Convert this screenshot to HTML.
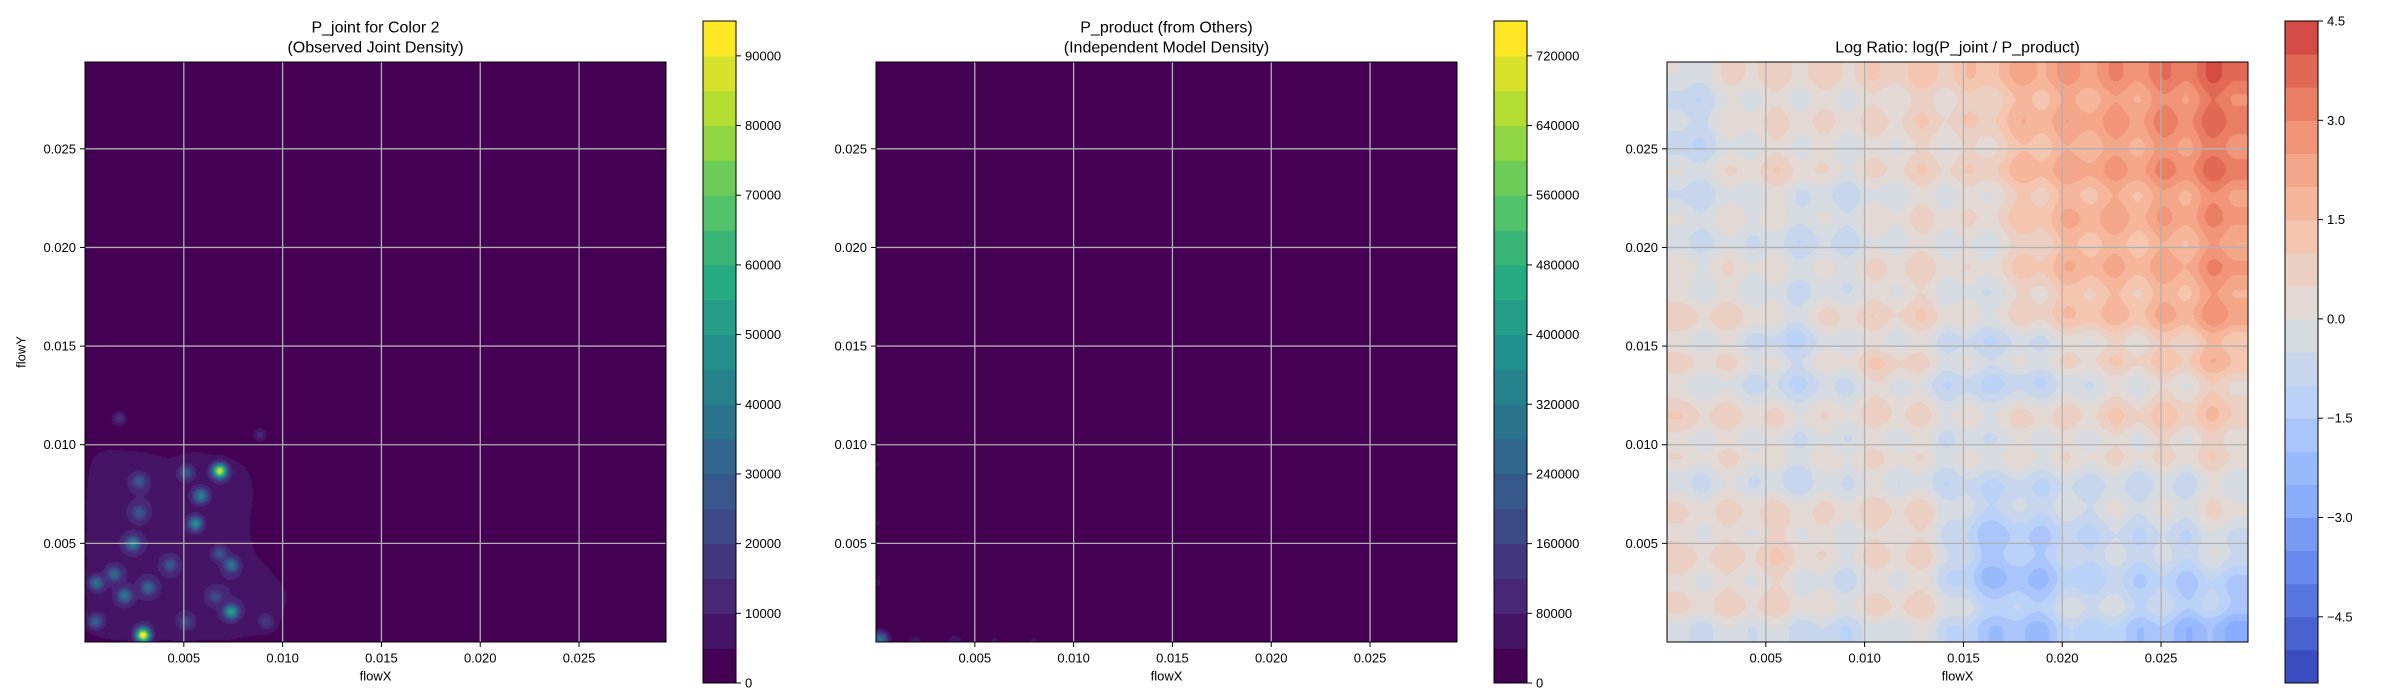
<!DOCTYPE html>
<html><head><meta charset="utf-8"><style>
body{margin:0;background:#fff;}
#root{position:relative;width:2400px;height:700px;overflow:hidden;font-family:"Liberation Sans",sans-serif;}
canvas{position:absolute;}
svg{position:absolute;left:0;top:0;}
</style></head><body>
<div id="root">
<canvas id="c1" width="581" height="580" style="left:85px;top:62px"></canvas>
<canvas id="c2" width="581" height="580" style="left:876px;top:62px"></canvas>
<canvas id="c3" width="581" height="580" style="left:1667px;top:62px"></canvas>
<svg id="ov" width="2400" height="700"></svg>
</div>
<script>
// ---- data ----
const axisMax = 0.0294;
const xTicks = [0.005, 0.010, 0.015, 0.020, 0.025];
const yTicks = [0.005, 0.010, 0.015, 0.020, 0.025];
const tickLabels = ["0.005", "0.010", "0.015", "0.020", "0.025"];
// panel 1 peaks
const p1X = [0.00294,0.00682,0.0074,0.00242,0.0056,0.00586,0.0074,0.0020,0.00057,0.00052,0.0032,0.00148,0.00273,0.00273,0.0051,0.0043,0.0068,0.00174,0.00885,0.0051,0.0066,0.0092];
const p1Y = [0.00034,0.00867,0.00153,0.0050,0.0060,0.0074,0.0039,0.00234,0.00298,0.00103,0.00275,0.00344,0.00654,0.00814,0.0086,0.0039,0.0045,0.01133,0.0105,0.0010,0.0023,0.0010];
const p1V = [90000,80000,45000,35000,40000,35000,30000,30000,30000,25000,25000,25000,20000,20000,20000,20000,20000,15000,12000,15000,15000,12000];
// panel 1 diffuse background blobs
const b1X = [0.001,0.003,0.005,0.007,0.009,0.001,0.003,0.005,0.007,0.0088,0.001,0.003,0.005,0.0075,0.001,0.003,0.005,0.0075,0.001,0.003,0.0055,0.0075,0.0012,0.0115];
const b1Y = [0.001,0.001,0.001,0.001,0.0012,0.003,0.003,0.003,0.003,0.003,0.005,0.005,0.005,0.005,0.007,0.007,0.0072,0.007,0.009,0.0088,0.009,0.0085,0.0142,0.0025];
const b1V = [6000,6000,6000,6000,5500,6000,6000,6000,6000,5500,6000,6000,6000,5500,6000,6000,6000,5500,5500,5500,5000,5000,4500,4500];
// panel 2 blobs
const p2X = [0.0002,0.002,0.004,0.006,0.008,0.011,0,0,0];
const p2Y = [0.0001,0,0,0,0,0,0.003,0.006,0.009];
const p2V = [300000,60000,70000,50000,50000,40000,50000,45000,45000];
// panel 3 coarse log-ratio grid (rows top->bottom, cols left->right)
const ratioGrid = [
[-0.5,0.3,0.3,0.5,0.5,0.8,1.0,2.0,2.2,2.5,3,3.5],
[-0.8,0,0.3,0.3,0.3,0.5,0.5,1.8,2,2.3,2.8,3.2],
[-0.5,0,0.3,-0.3,0,0.3,0.3,1.5,1.8,2,2.5,3],
[-0.3,0,-0.5,-0.3,0,0.3,0,1.2,1.8,1.8,2,2.5],
[0,0,-0.3,-0.2,0.3,0.3,-0.3,1,1.5,1.5,1.8,2.5],
[0.5,0.3,-0.8,0.5,0.3,0.3,-0.5,0.3,0.8,1,1.5,2],
[0,-0.3,-1,-0.3,0.5,-0.5,-1,-0.8,-0.3,0,0.3,0.8],
[0.8,0.5,0.3,0.3,0.5,0.3,0,0.8,0.5,0.8,1,1],
[-0.3,0,-0.8,0,0,-0.5,-0.5,-0.3,-0.3,-0.3,-0.3,0],
[0.3,0.3,0.5,0.3,0.5,0.3,-1.5,-1,-0.8,-0.5,-0.5,0],
[0.5,0.3,0.5,-0.3,0.3,0,-2,-1.8,-1.2,-1,-1.2,-1],
[0.3,0.5,0.3,0,0.5,0.5,-1,-1.3,-0.3,-0.8,-1.3,-1.8]];
// panel 3 stripe offsets (columns left->right, rows top->bottom)
const colStripes = [0.2,-0.3,0.3,-0.2,0.4,-0.3,0.2,-0.4,0.3,-0.2,0.4,-0.3,0.3,-0.2,0.2,-0.4,0.3,-0.2,0.4,-0.3,0.4,-0.3,0.5,-0.2];
const rowStripes = [0.3,-0.3,0.2,-0.2,0.4,-0.3,0.2,-0.3,0.3,-0.2,0.4,-0.4,0.5,-0.3,0.2,-0.4,0.3,-0.3,0.3,-0.2,0.3,-0.3,0.2,-0.8];
const cb1Ticks = [0,10000,20000,30000,40000,50000,60000,70000,80000,90000];
const cb2Ticks = [0,80000,160000,240000,320000,400000,480000,560000,640000,720000];
const cb3Ticks = [-4.5,-3.0,-1.5,0.0,1.5,3.0,4.5];
const cb3Labels = ["−4.5","−3.0","−1.5","0.0","1.5","3.0","4.5"];

// ---- helpers ----
const viridis=[[68,1,84],[71,44,122],[59,81,139],[44,113,142],[33,144,141],[39,173,129],[92,200,99],[170,220,50],[253,231,37]];
const coolwarm=[[59,76,192],[98,130,234],[141,176,254],[184,208,249],[221,221,221],[245,196,173],[244,154,123],[222,96,77],[180,4,38]];
function cmap(tab,t){t=Math.max(0,Math.min(1,t));const f=t*(tab.length-1);const i=Math.min(tab.length-2,Math.floor(f));const r=f-i;return tab[i].map((v,k)=>Math.round(v+(tab[i+1][k]-v)*r));}
const W=581,H=580;
function sx(v){return v/axisMax*W;}
function sy(v){return H-v/axisMax*H;}
// band color: normalized band center over [nlo,nhi]
function bandColor(p,i){const step=(p.hi-p.lo)/p.n;const c=p.lo+(i+0.5)*step;return cmap(p.tab,(c-p.nlo)/(p.nhi-p.nlo));}
function fill(id,fn,p){
 const cv=document.getElementById(id),ctx=cv.getContext('2d');const img=ctx.createImageData(W,H);
 for(let py=0;py<H;py++)for(let px=0;px<W;px++){
  const x=(px+0.5)/W*axisMax,y=(H-py-0.5)/H*axisMax;
  let b=Math.floor((fn(x,y)-p.lo)/(p.hi-p.lo)*p.n);b=Math.max(0,Math.min(p.n-1,b));
  const c=bandColor(p,b);const o=(py*W+px)*4;img.data[o]=c[0];img.data[o+1]=c[1];img.data[o+2]=c[2];img.data[o+3]=255;}
 ctx.putImageData(img,0,0);
}
function gsum(x,y,X,Y,V,s){let t=0;for(let i=0;i<X.length;i++){const dx=x-X[i],dy=y-Y[i];t+=V[i]*Math.exp(-(dx*dx+dy*dy)/(2*s*s));}return t;}
const GR=ratioGrid.length,GC=ratioGrid[0].length;
function stripe(arr,f){const g=f*arr.length-0.5;const i=Math.max(0,Math.min(arr.length-1,Math.floor(g))),j=Math.min(arr.length-1,i+1);const r=Math.max(0,Math.min(1,g-i));const w=0.5-0.5*Math.cos(Math.PI*r);return arr[i]*(1-w)+arr[j]*w;}
function ratioAt(x,y){
 let gx=x/axisMax*GC-0.5,gy=(axisMax-y)/axisMax*GR-0.5;
 gx=Math.max(0,Math.min(GC-1.001,gx));gy=Math.max(0,Math.min(GR-1.001,gy));
 const i=Math.floor(gx),j=Math.floor(gy),fx=gx-i,fy=gy-j;
 const a=ratioGrid[j][i],b=ratioGrid[j][i+1],c=ratioGrid[j+1][i],d=ratioGrid[j+1][i+1];
 const base=a*(1-fx)*(1-fy)+b*fx*(1-fy)+c*(1-fx)*fy+d*fx*fy;
 return base+stripe(colStripes,x/axisMax)+stripe(rowStripes,(axisMax-y)/axisMax);}

const panels=[
 {L:85,t1:"P_joint for Color 2",t2:"(Observed Joint Density)",cb:703,ylab:true,n:19,tab:viridis,lo:0,hi:95000,nlo:2500,nhi:92500,ticks:cb1Ticks,labels:cb1Ticks.map(String),name:'joint'},
 {L:876,t1:"P_product (from Others)",t2:"(Independent Model Density)",cb:1494,ylab:false,n:19,tab:viridis,lo:0,hi:760000,nlo:20000,nhi:740000,ticks:cb2Ticks,labels:cb2Ticks.map(String),name:'product'},
 {L:1667,t1:null,t2:"Log Ratio: log(P_joint / P_product)",cb:2285,ylab:false,n:20,tab:coolwarm,lo:-5.5,hi:4.5,nlo:-5.25,nhi:5.25,ticks:cb3Ticks,labels:cb3Labels,name:'log-ratio'}];

fill('c1',(x,y)=>gsum(x,y,p1X,p1Y,p1V,0.00025)+gsum(x,y,b1X,b1Y,b1V,0.001),panels[0]);
fill('c2',(x,y)=>gsum(x,y,p2X,p2Y,p2V,0.0003),panels[1]);
fill('c3',ratioAt,panels[2]);

// ---- overlay ----
const NS='http://www.w3.org/2000/svg',ov=document.getElementById('ov');
function el(t,a,p){const e=document.createElementNS(NS,t);for(const k in a)e.setAttribute(k,a[k]);(p||ov).appendChild(e);return e;}
function txt(x,y,s,size,anchor,p){const e=el('text',{x:x,y:y,'font-size':size,'text-anchor':anchor||'middle','dominant-baseline':'central',fill:'#000'},p);e.textContent=s;return e;}
const T=62;
panels.forEach(p=>{
 const g=el('g',{});
 
 
 xTicks.forEach((v,i)=>{
  const x=p.L+sx(v);
  el('line',{x1:x,y1:T,x2:x,y2:T+H,stroke:'#b0b0b0','stroke-width':1.3},g);
  el('line',{x1:x,y1:T+H,x2:x,y2:T+H+5,stroke:'#000','stroke-width':1},g);
  const t=txt(x,T+H+16,tickLabels[i],13,'middle',g);
  
  
 });
 yTicks.forEach((v,i)=>{
  const y=T+sy(v);
  el('line',{x1:p.L,y1:y,x2:p.L+W,y2:y,stroke:'#b0b0b0','stroke-width':1.3},g);
  el('line',{x1:p.L-5,y1:y,x2:p.L,y2:y,stroke:'#000','stroke-width':1},g);
  const t=txt(p.L-9,y,tickLabels[i],13,'end',g);
  
  
 });
 el('rect',{x:p.L,y:T,width:W,height:H,fill:'none',stroke:'#000','stroke-width':1},g);
 const xl=txt(p.L+W/2,676,'flowX',13,'middle',g);
 
 
 if(p.ylab){const yl=txt(0,0,'flowY',13,'middle',g);yl.setAttribute('transform','translate(21,352) rotate(-90)');
  
  }
 if(p.t1){const a=txt(p.L+W/2,28,p.t1,16,'middle',g);}
 const b=txt(p.L+W/2,48,p.t2,16,'middle',g);
 
 
 // colorbar
 const cg=el('g',{},g);
 
 
 const cT=21,cB=683,cW=33,bh=(cB-cT)/p.n;
 for(let i=0;i<p.n;i++){const c=bandColor(p,i);
  el('rect',{x:p.cb,y:cB-(i+1)*bh,width:cW,height:bh+0.5,fill:`rgb(${c})`},cg);}
 el('rect',{x:p.cb,y:cT,width:cW,height:cB-cT,fill:'none',stroke:'#000','stroke-width':1},cg);
 p.ticks.forEach((v,i)=>{const y=cB-(v-p.lo)/(p.hi-p.lo)*(cB-cT);
  el('line',{x1:p.cb+cW,y1:y,x2:p.cb+cW+5,y2:y,stroke:'#000','stroke-width':1},cg);
  const t=txt(p.cb+cW+9,y,p.labels[i],13,'start',cg);
  
  });
});
</script>
</body></html>
